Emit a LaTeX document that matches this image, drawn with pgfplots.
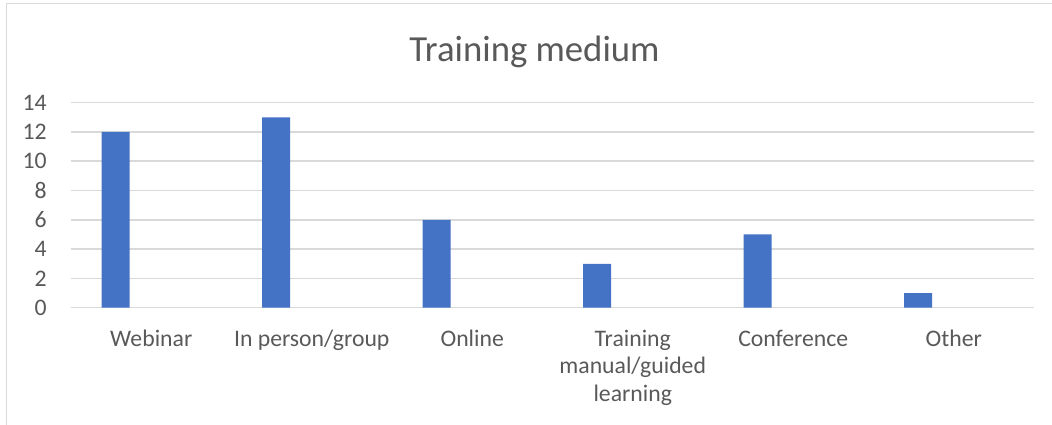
\documentclass[border=0pt]{standalone}
\usepackage{pgfplots}
\pgfplotsset{compat=1.18}
\usepackage{fontspec}
\setmainfont{Carlito}
\definecolor{barblue}{HTML}{4472C4}
\definecolor{gridgray}{HTML}{D9D9D9}
\definecolor{txtgray}{HTML}{595959}
\begin{document}
\begin{tikzpicture}
% 1 px of the reference = 0.02cm
\useasboundingbox (0,0) rectangle (21.04cm,8.5cm);
\draw[gridgray, line width=0.03cm] (0.13cm,0) -- (0.13cm,8.43cm) -- (21.04cm,8.43cm);
\node[anchor=base, text=txtgray, font=\fontsize{20.9}{24}\selectfont, inner sep=0pt]
  at (10.69cm,7.26cm) {Training medium};
\begin{axis}[
  at={(1.42cm,2.346cm)}, anchor=south west,
  scale only axis, width=19.26cm, height=4.1cm,
  xmin=-0.5, xmax=5.5, ymin=0, ymax=14,
  ytick={0,2,...,14},
  xtick=data,
  xticklabels={\strut Webinar, \strut In person/group, \strut Online,
    {\strut Training\\manual/guided\\learning}, \strut Conference, \strut Other},
  major tick length=0pt,
  axis x line*=bottom, axis y line*=left,
  x axis line style={gridgray, line width=0.9pt, -},
  y axis line style={draw=none},
  ymajorgrids, grid style={gridgray, line width=0.9pt},
  ybar, bar width=0.56cm,
  tick label style={text=txtgray, font=\fontsize{13.5}{15.6}\selectfont, inner sep=0pt},
  xticklabel style={anchor=north, align=center, yshift=-0.382cm},
  yticklabel style={anchor=east, xshift=-0.48cm},
  /pgf/number format/assume math mode=true,
]
\addplot[fill=barblue, draw=none, bar shift=-0.711cm] coordinates {
  (0,12) (1,13) (2,6) (3,3) (4,5) (5,1)
};
\end{axis}
\end{tikzpicture}
\end{document}
